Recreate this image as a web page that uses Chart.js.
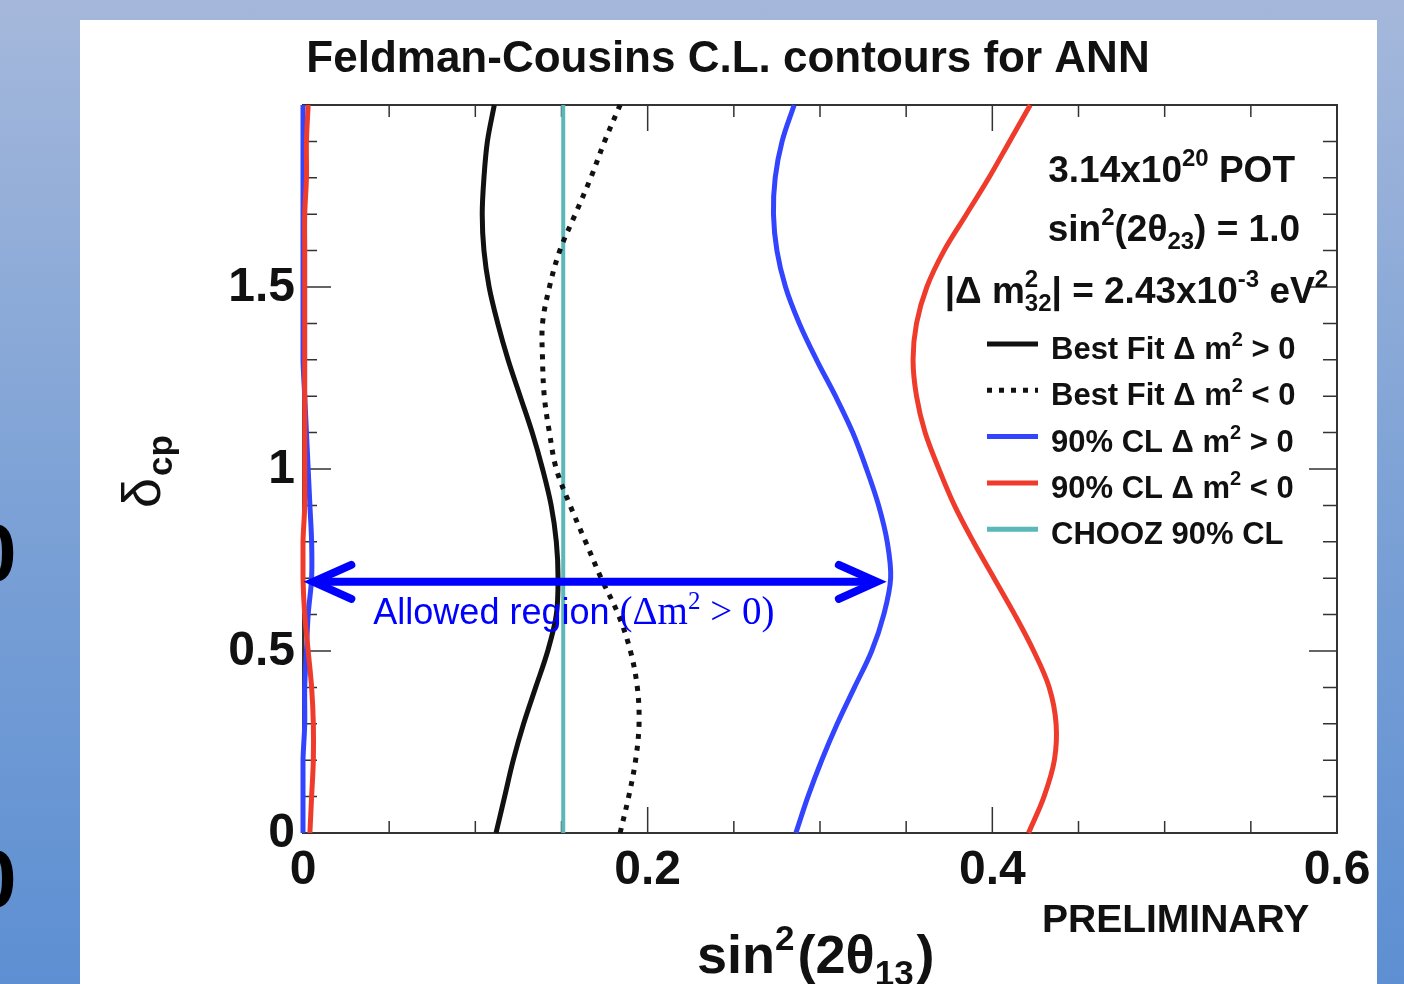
<!DOCTYPE html>
<html>
<head>
<meta charset="utf-8">
<script src="https://cdn.jsdelivr.net/npm/chart.js@4.4.0/dist/chart.umd.min.js"></script>
<style>
  html, body { margin: 0; padding: 0; }
  body {
    width: 1404px; height: 984px; overflow: hidden; position: relative;
    background: linear-gradient(to bottom, #a5b8db 0%, #7da2d6 50%, #5d8fd2 100%);
    font-family: "Liberation Sans", Arial, sans-serif;
  }
  #panel { position: absolute; left: 80px; top: 20px; width: 1297px; height: 964px; background: #fff; }
  .slideZero { position: absolute; left: -29px; font: bold 82px/82px "Liberation Sans", Arial, sans-serif; color: #000; }
</style>
</head>
<body>
<div class="slideZero" style="top:512px">0</div>
<div class="slideZero" style="top:838px">0</div>
<div id="panel"><canvas id="myChart" width="1297" height="964"></canvas></div>
<script>
// delta_cp grid (units of pi), each contour is read at these values
const deltaGrid = [0, 0.1, 0.2, 0.3, 0.4, 0.5, 0.6, 0.7, 0.8, 0.9, 1.0, 1.1, 1.2, 1.3, 1.4, 1.5, 1.6, 1.7, 1.8, 1.9, 2.0]

// sin^2(2 theta13) along each contour
const bestFitNormal   = [0.112, 0.117, 0.122, 0.128, 0.135, 0.142, 0.147, 0.148, 0.147, 0.144, 0.139, 0.133, 0.126, 0.119, 0.113, 0.108, 0.105, 0.104, 0.105, 0.107, 0.111]
const bestFitInverted = [0.184, 0.189, 0.193, 0.195, 0.194, 0.190, 0.183, 0.173, 0.164, 0.155, 0.147, 0.143, 0.140, 0.139, 0.139, 0.143, 0.149, 0.158, 0.167, 0.175, 0.184]
const cl90NormalLeft  = [0.000, 0.000, 0.000, 0.001, 0.001, 0.002, 0.003, 0.005, 0.005, 0.004, 0.003, 0.002, 0.001, 0.000, 0.000, 0.000, 0.000, 0.000, 0.000, 0.000, 0.000]
const cl90NormalRight = [0.286, 0.293, 0.301, 0.310, 0.320, 0.330, 0.337, 0.341, 0.339, 0.334, 0.327, 0.319, 0.309, 0.298, 0.288, 0.280, 0.275, 0.273, 0.274, 0.278, 0.285]
const cl90InvertedLeft  = [0.004, 0.005, 0.006, 0.006, 0.005, 0.003, 0.001, 0.000, 0.000, 0.001, 0.001, 0.001, 0.001, 0.001, 0.001, 0.001, 0.001, 0.001, 0.002, 0.002, 0.003]
const cl90InvertedRight = [0.421, 0.430, 0.436, 0.437, 0.433, 0.424, 0.413, 0.401, 0.389, 0.378, 0.369, 0.361, 0.356, 0.354, 0.356, 0.362, 0.372, 0.385, 0.398, 0.410, 0.422]
const choozLimit = 0.151

// axes
const xTicks = [0, 0.2, 0.4, 0.6]
const yTicks = [0, 0.5, 1, 1.5]

// arrow annotation (allowed region for dm2 > 0)
const arrowDelta = 0.69
const arrowFrom = 0.006
const arrowTo = 0.333

const colors = {
    black: '#111111',
    blue: '#3344ff',
    red: '#ef3b2c',
    cyan: '#5bb8b8'
}

function curve(xs) {
    return xs.map((x, i) => ({ x: x, y: deltaGrid[i] }))
}

// text with super/subscripts, ROOT style
function drawRuns(ctx, runs, x, y, size, align, weight, family) {
    weight = weight || 'bold'
    family = family || '"Liberation Sans", Arial, sans-serif'
    const fontFor = r => (r.wt || weight) + ' ' + Math.round((r.mode ? size * 0.64 : size) * (r.scale || 1)) + 'px ' + (r.fam || family)
    const widths = runs.map(r => { ctx.font = fontFor(r); return ctx.measureText(r.t).width + (r.pad || 0) })
    const xs = []
    let pos = 0
    for (let i = 0; i < runs.length; i++) {
        xs[i] = pos
        if (runs[i].stack) {
            xs[i + 1] = pos
            pos += Math.max(widths[i], widths[i + 1])
            i++
        } else {
            pos += widths[i]
        }
    }
    let start = x
    if (align === 'right') start = x - pos
    if (align === 'center') start = x - pos / 2
    ctx.textAlign = 'left'
    ctx.textBaseline = 'alphabetic'
    runs.forEach((r, i) => {
        ctx.font = fontFor(r)
        let dy = 0
        if (r.mode === 'sup') dy = -size * 0.42
        if (r.mode === 'sub') dy = size * 0.22
        ctx.fillText(r.t, start + xs[i], y + dy)
    })
}

const legendEntries = [
    { runs: [{ t: 'Best Fit \u0394 m' }, { t: '2', mode: 'sup' }, { t: ' > 0' }], color: colors.black, dash: [] },
    { runs: [{ t: 'Best Fit \u0394 m' }, { t: '2', mode: 'sup' }, { t: ' < 0' }], color: colors.black, dash: [5, 7] },
    { runs: [{ t: '90% CL \u0394 m' }, { t: '2', mode: 'sup' }, { t: ' > 0' }], color: colors.blue, dash: [] },
    { runs: [{ t: '90% CL \u0394 m' }, { t: '2', mode: 'sup' }, { t: ' < 0' }], color: colors.red, dash: [] },
    { runs: [{ t: 'CHOOZ 90% CL' }], color: colors.cyan, dash: [] }
]

// frame + inner ticks like ROOT
const frameTicks = {
    id: 'frameTicks',
    beforeDatasetsDraw(chart) {
        const ctx = chart.ctx
        const a = chart.chartArea
        const xs = chart.scales.x, ys = chart.scales.y
        ctx.save()
        ctx.strokeStyle = '#333'
        ctx.lineWidth = 2
        ctx.strokeRect(a.left, a.top, a.right - a.left, a.bottom - a.top)
        ctx.lineWidth = 1.5
        ctx.beginPath()
        for (let i = 0; i <= 12; i++) {
            const px = xs.getPixelForValue(i * 0.05)
            const len = i % 4 === 0 ? 26 : 12
            ctx.moveTo(px, a.bottom); ctx.lineTo(px, a.bottom - len)
            ctx.moveTo(px, a.top); ctx.lineTo(px, a.top + len)
        }
        for (let i = 0; i <= 20; i++) {
            const py = ys.getPixelForValue(i * 0.1)
            const len = i % 5 === 0 ? 28 : 14
            ctx.moveTo(a.left, py); ctx.lineTo(a.left + len, py)
            ctx.moveTo(a.right, py); ctx.lineTo(a.right - len, py)
        }
        ctx.stroke()
        ctx.restore()
    },
    afterDatasetsDraw(chart) {
        const ctx = chart.ctx
        const a = chart.chartArea
        const xs = chart.scales.x, ys = chart.scales.y
        ctx.save()
        ctx.fillStyle = '#111'

        // tick labels
        ctx.font = 'bold 48px "Liberation Sans", Arial, sans-serif'
        ctx.textAlign = 'center'
        ctx.textBaseline = 'alphabetic'
        xTicks.forEach(v => ctx.fillText(String(v), xs.getPixelForValue(v), a.bottom + 51))
        ctx.textAlign = 'right'
        ctx.textBaseline = 'middle'
        yTicks.forEach(v => ctx.fillText(String(v), a.left - 8, ys.getPixelForValue(v) + 1))

        // title
        ctx.font = 'bold 44px "Liberation Sans", Arial, sans-serif'
        ctx.textAlign = 'center'
        ctx.textBaseline = 'alphabetic'
        ctx.fillText('Feldman-Cousins C.L. contours for ANN', 648, 52)

        // axis titles
        drawRuns(ctx, [{ t: 'sin' }, { t: '2', mode: 'sup', pad: 3 }, { t: '(2\u03b8' }, { t: '13', mode: 'sub', pad: 3 }, { t: ')' }], 617, 953, 54, 'left')
        ctx.save()
        ctx.translate(80, 488)
        ctx.rotate(-Math.PI / 2)
        drawRuns(ctx, [{ t: '\u03b4', wt: 'normal', pad: 2 }, { t: 'cp', mode: 'sub' }], 0, 0, 54, 'left')
        ctx.restore()

        ctx.font = 'bold 39px "Liberation Sans", Arial, sans-serif'
        ctx.textAlign = 'left'
        ctx.fillText('PRELIMINARY', 962, 912)

        // run info
        drawRuns(ctx, [{ t: '3.14x10' }, { t: '20', mode: 'sup' }, { t: ' POT' }], 1215, 162, 37, 'right')
        drawRuns(ctx, [{ t: 'sin' }, { t: '2', mode: 'sup' }, { t: '(2\u03b8' }, { t: '23', mode: 'sub' }, { t: ') = 1.0' }], 1220, 221, 37, 'right')
        drawRuns(ctx, [{ t: '|\u0394 m' }, { t: '2', mode: 'sup', stack: true }, { t: '32', mode: 'sub' }, { t: '| = 2.43x10' }, { t: '-3', mode: 'sup' }, { t: ' eV' }, { t: '2', mode: 'sup' }], 1248, 283, 37, 'right')

        // legend
        legendEntries.forEach((e, i) => {
            const base = 339 + i * 46.3
            ctx.save()
            ctx.strokeStyle = e.color
            ctx.lineWidth = 5
            ctx.setLineDash(e.dash)
            ctx.beginPath()
            ctx.moveTo(907, base - 15)
            ctx.lineTo(958, base - 15)
            ctx.stroke()
            ctx.restore()
            drawRuns(ctx, e.runs, 971, base, 31, 'left')
        })

        // allowed region arrow
        const ay = ys.getPixelForValue(arrowDelta)
        const x1 = xs.getPixelForValue(arrowFrom)
        const x2 = xs.getPixelForValue(arrowTo)
        ctx.strokeStyle = '#0000ff'
        ctx.fillStyle = '#0000ff'
        ctx.lineWidth = 8
        ctx.lineCap = 'butt'
        ctx.beginPath()
        ctx.moveTo(x1 + 4, ay); ctx.lineTo(x2 - 4, ay)
        ctx.stroke()
        ctx.lineCap = 'round'
        ctx.lineJoin = 'miter'
        ctx.beginPath()
        ctx.moveTo(x1 + 38, ay - 17); ctx.lineTo(x1, ay); ctx.lineTo(x1 + 38, ay + 17)
        ctx.moveTo(x2 - 38, ay - 17); ctx.lineTo(x2, ay); ctx.lineTo(x2 - 38, ay + 17)
        ctx.stroke()
        drawRuns(ctx, [
            { t: 'Allowed region ' },
            { t: '(\u0394m', fam: '"Liberation Serif", serif', scale: 1.08 },
            { t: '2', mode: 'sup', fam: '"Liberation Serif", serif', scale: 1.08 },
            { t: ' > 0)', fam: '"Liberation Serif", serif', scale: 1.08 }
        ], x1 + 60, ay + 42, 36, 'left', 'normal')

        ctx.restore()
    }
}

const line = (data, color, order, extra) => Object.assign({
    data: data,
    showLine: true,
    borderColor: color,
    borderWidth: 5,
    pointRadius: 0,
    tension: 0.35,
    fill: false,
    clip: false,
    order: order
}, extra || {})

const ctx = document.getElementById('myChart').getContext('2d')

const myChart = new Chart(ctx, {
    type: 'scatter',
    data: {
        datasets: [
            line(curve(bestFitInverted), colors.black, 0, { borderDash: [5, 7], borderCapStyle: 'butt' }),
            line(curve(bestFitNormal), colors.black, 1),
            line(curve(cl90InvertedLeft), colors.red, 2),
            line(curve(cl90InvertedRight), colors.red, 3),
            line(curve(cl90NormalLeft), colors.blue, 4),
            line(curve(cl90NormalRight), colors.blue, 5),
            line([{ x: choozLimit, y: 0 }, { x: choozLimit, y: 2 }], colors.cyan, 6, { borderWidth: 4, tension: 0 })
        ]
    },
    options: {
        responsive: false,
        animation: false,
        devicePixelRatio: 1,
        layout: { padding: { left: 223, right: 40, top: 85, bottom: 151 } },
        plugins: { legend: { display: false }, tooltip: { enabled: false } },
        scales: {
            x: { type: 'linear', min: 0, max: 0.6, display: false },
            y: { type: 'linear', min: 0, max: 2, display: false }
        }
    },
    plugins: [frameTicks]
})
</script>
</body>
</html>
